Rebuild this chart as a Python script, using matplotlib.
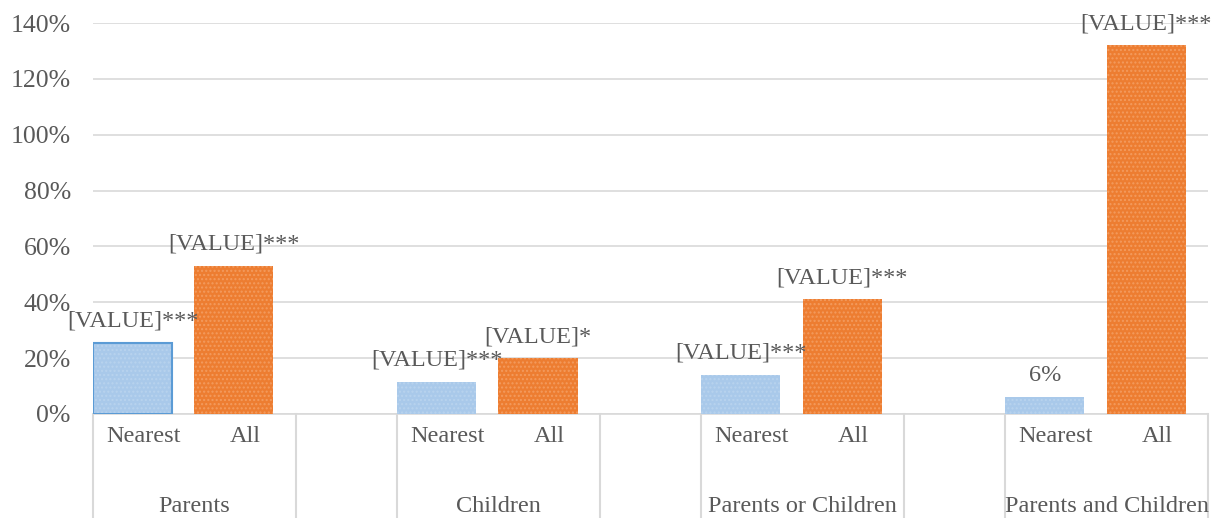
import matplotlib
matplotlib.use("Agg")
import matplotlib.pyplot as plt
import matplotlib.transforms as mtransforms

groups = ["Parents", "Children", "Parents or Children", "Parents and Children"]
subcats = ["Nearest", "All"]
nearest_vals = [25.5, 11.5, 14.0, 6.0]
all_vals = [53.0, 20.0, 41.0, 132.0]
nearest_labels = ["[VALUE]***", "[VALUE]***", "[VALUE]***", "6%"]
all_labels = ["[VALUE]***", "[VALUE]*", "[VALUE]***", "[VALUE]***"]
yticks = [0, 20, 40, 60, 80, 100, 120, 140]

plt.rcParams['font.family'] = ['Liberation Serif', 'DejaVu Serif']
plt.rcParams['hatch.linewidth'] = 1.0
TXT = '#595959'
GRID = '#D9D9D9'
BLUE = '#A9C9EA'
ORANGE = '#ED7D31'
FS = 17.5

W, H = 1228, 518
fig = plt.figure(figsize=(W / 100, H / 100), dpi=100)
ax = fig.add_axes([93 / W, (518 - 414) / H, (1208 - 93) / W, (414 - 23) / H])

nslots = 3 * len(groups) - 1
ax.set_xlim(0, nslots)
ax.set_ylim(0, 140)

bw = 0.78
for g in range(len(groups)):
    xn = 3 * g + 0.39
    xa = 3 * g + 1.39
    ax.bar(xn, nearest_vals[g], width=bw, color=BLUE, linewidth=0, zorder=3)
    ax.bar(xn, nearest_vals[g], width=bw, facecolor='none', edgecolor='#B8D3EE',
           linewidth=0, hatch='....', zorder=3)
    if g == 0:
        ax.bar(xn, nearest_vals[g], width=bw, facecolor='none', edgecolor='#5B9BD5',
               linewidth=1.5, zorder=4)
    ax.bar(xa, all_vals[g], width=bw, color=ORANGE, linewidth=0, zorder=3)
    ax.bar(xa, all_vals[g], width=bw, facecolor='none', edgecolor='#F39B5E',
           linewidth=0, hatch='....', zorder=3)
    ax.annotate(nearest_labels[g], (xn, nearest_vals[g]), xytext=(0, 8),
                textcoords='offset points', ha='center', va='bottom',
                fontsize=FS, color=TXT, zorder=5, annotation_clip=False)
    ax.annotate(all_labels[g], (xa, all_vals[g]), xytext=(0, 8),
                textcoords='offset points', ha='center', va='bottom',
                fontsize=FS, color=TXT, zorder=5, annotation_clip=False)

# grid
ax.set_yticks(yticks)
ax.set_yticklabels([f"{v}%" for v in yticks], fontsize=18.5, color=TXT)
ax.yaxis.grid(True, color=GRID, linewidth=1.2, zorder=0)
ax.set_axisbelow(True)
ax.tick_params(axis='y', length=0, pad=16)
ax.tick_params(axis='x', length=0)
ax.set_xticks([])
for s in ['top', 'right', 'left']:
    ax.spines[s].set_visible(False)
ax.spines['bottom'].set_color(GRID)
ax.spines['bottom'].set_linewidth(1.2)

# category axis boxes
trans = mtransforms.blended_transform_factory(ax.transData, ax.transAxes)
bottom = -(518 - 414) / (414 - 23)
bounds = []
for g in range(len(groups)):
    bounds += [3 * g, 3 * g + 2]
for b in sorted(set(bounds)):
    ax.plot([b, b], [0, bottom - 0.05], transform=trans, color=GRID,
            linewidth=1.5, clip_on=False, zorder=1)

for g, name in enumerate(groups):
    for k, sc in enumerate(subcats):
        ax.text(3 * g + 0.5 + k, -(436 - 414) / 391, sc, transform=trans,
                ha='center', va='center', fontsize=FS, color=TXT)
    ax.text(3 * g + 1, -(506 - 414) / 391, name, transform=trans,
            ha='center', va='center', fontsize=FS, color=TXT)

fig.savefig("out.png", dpi=100)
